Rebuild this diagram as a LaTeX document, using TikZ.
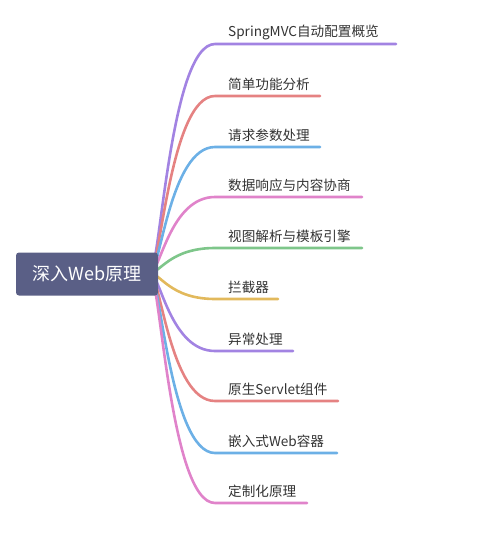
\documentclass[tikz,border=0pt]{standalone}
\usepackage{fontspec}
\newfontfamily\cjk{Noto Sans CJK SC}
\definecolor{cPurple}{HTML}{A283E2}
\definecolor{cRed}{HTML}{E58282}
\definecolor{cBlue}{HTML}{6CB0E6}
\definecolor{cPink}{HTML}{E083CA}
\definecolor{cGreen}{HTML}{7EC68A}
\definecolor{cYellow}{HTML}{E2B95C}
\definecolor{rootfill}{HTML}{5A5F86}
\definecolor{txt}{HTML}{333333}
\tikzset{
  rootbox/.style={fill=rootfill, rounded corners=3pt, minimum width=142pt, minimum height=43pt,
    text=white, font=\cjk\fontsize{18}{20}\selectfont, inner sep=0pt},
  leaf/.style={anchor=base west, inner sep=0pt, text=txt, font=\cjk\fontsize{13.6}{16}\selectfont},
  branch/.style={line width=2.6pt, line cap=round}
}
\begin{document}
\begin{tikzpicture}[x=1pt,y=-1pt]
\useasboundingbox (0,0) rectangle (477,551);
\coordinate (s) at (150,273);
% branch ends (curve end, underline end)
\foreach \i/\y/\xe/\col in {1/44/396/cPurple, 2/96/320/cRed, 3/147/320/cBlue, 4/197/362/cPink,
   5/248/362/cGreen, 6/299/278/cYellow, 7/351/293/cPurple, 8/401/338/cRed, 9/453/337/cBlue, 10/503/307/cPink}{
  \coordinate (e\i) at (215,\y);
  \coordinate (f\i) at (\xe,\y);
  \draw[branch, draw=\col] (s) .. controls +(10,0) and +(-45,0) .. (e\i) -- (f\i);
}
\node[rootbox] (root) at (87,274) {深入Web原理};
\node[leaf] (l1) at (228,37) {SpringMVC自动配置概览};
\node[leaf] (l2) at (228,89) {简单功能分析};
\node[leaf] (l3) at (228,140) {请求参数处理};
\node[leaf] (l4) at (228,190) {数据响应与内容协商};
\node[leaf] (l5) at (228,241) {视图解析与模板引擎};
\node[leaf] (l6) at (228,292) {拦截器};
\node[leaf] (l7) at (228,344) {异常处理};
\node[leaf] (l8) at (228,394) {原生Servlet组件};
\node[leaf] (l9) at (228,446) {嵌入式Web容器};
\node[leaf] (l10) at (228,496) {定制化原理};
\end{tikzpicture}
\end{document}
